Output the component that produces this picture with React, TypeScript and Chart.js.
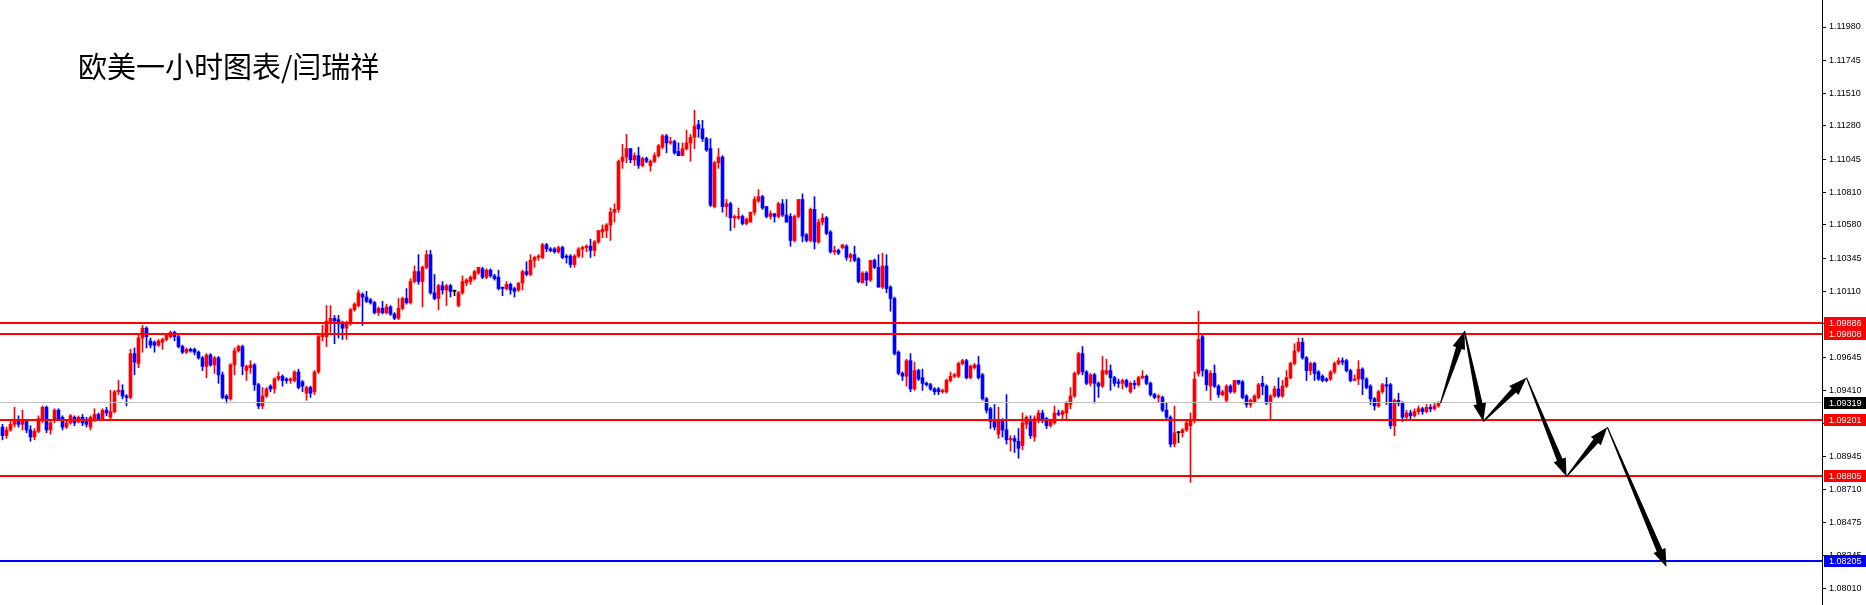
import React, { useEffect, useRef } from 'react';
import { Chart, registerables } from 'chart.js';

Chart.register(...registerables);

const chartTitle = '欧美一小时图表/闫瑞祥';

const opens = [
  1.0915, 1.0909, 1.0913, 1.0917, 1.0920, 1.0917, 1.0919, 1.0913, 1.0908, 1.0912,
  1.0920, 1.0929, 1.0913, 1.0920, 1.0927, 1.0922, 1.0915, 1.0918, 1.0922, 1.0919,
  1.0922, 1.0920, 1.0915, 1.0920, 1.0924, 1.0921, 1.0927, 1.0922, 1.0926, 1.0940,
  1.0941, 1.0937, 1.0936, 1.0967, 1.0960, 1.0978, 1.0985, 1.0976, 1.0975, 1.0973,
  1.0975, 1.0977, 1.0979, 1.0982, 1.0979, 1.0972, 1.0968, 1.0970, 1.0970, 1.0968,
  1.0964, 1.0958, 1.0966, 1.0959, 1.0964, 1.0952, 1.0937, 1.0935, 1.0959, 1.0969,
  1.0972, 1.0955, 1.0957, 1.0959, 1.0945, 1.0930, 1.0937, 1.0944, 1.0942, 1.0949,
  1.0951, 1.0949, 1.0948, 1.0948, 1.0954, 1.0947, 1.0939, 1.0943, 1.0940, 1.0954,
  1.0979, 1.0979, 1.0989, 1.0992, 1.0991, 1.0988, 1.0985, 1.0989, 1.0998, 1.1001,
  1.1009, 1.1007, 1.1005, 1.1003, 1.0996, 1.0999, 1.0996, 1.1000, 1.0995, 1.0992,
  1.0999, 1.1006, 1.1003, 1.1018, 1.1025, 1.1018, 1.1028, 1.1037, 1.1010, 1.1006,
  1.1015, 1.1012, 1.1015, 1.1011, 1.1001, 1.1010, 1.1017, 1.1018, 1.1020, 1.1024,
  1.1027, 1.1021, 1.1026, 1.1022, 1.1021, 1.1014, 1.1013, 1.1016, 1.1013, 1.1012,
  1.1017, 1.1025, 1.1023, 1.1033, 1.1035, 1.1035, 1.1044, 1.1041, 1.1041, 1.1039,
  1.1042, 1.1036, 1.1036, 1.1030, 1.1036, 1.1041, 1.1042, 1.1043, 1.1040, 1.1046,
  1.1053, 1.1054, 1.1058, 1.1067, 1.1069, 1.1103, 1.1106, 1.1112, 1.1104, 1.1107,
  1.1100, 1.1105, 1.1100, 1.1103, 1.1107, 1.1113, 1.1121, 1.1116, 1.1117, 1.1110,
  1.1107, 1.1112, 1.1116, 1.1120, 1.1129, 1.1126, 1.1119, 1.1112, 1.1071, 1.1102,
  1.1106, 1.1071, 1.1073, 1.1063, 1.1063, 1.1064, 1.1059, 1.1060, 1.1067, 1.1075,
  1.1078, 1.1071, 1.1064, 1.1066, 1.1064, 1.1073, 1.1065, 1.1064, 1.1047, 1.1064,
  1.1076, 1.1051, 1.1047, 1.1069, 1.1046, 1.1060, 1.1063, 1.1053, 1.1039, 1.1040,
  1.1042, 1.1043, 1.1035, 1.1037, 1.1034, 1.1017, 1.1024, 1.1019, 1.1033, 1.1028,
  1.1014, 1.1029, 1.1014, 1.1006, 1.0968, 1.0953, 1.0951, 1.0962, 1.0942, 1.0955,
  1.0950, 1.0946, 1.0945, 1.0942, 1.0942, 1.0940, 1.0940, 1.0948, 1.0951, 1.0951,
  1.0960, 1.0962, 1.0950, 1.0957, 1.0959, 1.0952, 1.0935, 1.0928, 1.0919, 1.0910,
  1.0920, 1.0913, 1.0906, 1.0907, 1.0905, 1.0902, 1.0917, 1.0920, 1.0908, 1.0920,
  1.0925, 1.0921, 1.0916, 1.0918, 1.0925, 1.0924, 1.0925, 1.0931, 1.0937, 1.0953,
  1.0967, 1.0954, 1.0946, 1.0952, 1.0946, 1.0944, 1.0953, 1.0955, 1.0950, 1.0947,
  1.0946, 1.0948, 1.0940, 1.0946, 1.0945, 1.0950, 1.0951, 1.0946, 1.0938, 1.0936,
  1.0936, 1.0927, 1.0922, 1.0903, 1.0911, 1.0911, 1.0913, 1.0916, 1.0920, 1.0953,
  1.0979, 1.0955, 1.0944, 1.0953, 1.0944, 1.0938, 1.0934, 1.0944, 1.0940, 1.0948,
  1.0947, 1.0937, 1.0931, 1.0933, 1.0936, 1.0946, 1.0944, 1.0932, 1.0937, 1.0942,
  1.0937, 1.0944, 1.0950, 1.0960, 1.0969, 1.0975, 1.0964, 1.0955, 1.0960, 1.0954,
  1.0951, 1.0949, 1.0949, 1.0954, 1.0960, 1.0962, 1.0962, 1.0955, 1.0948, 1.0949,
  1.0956, 1.0949, 1.0944, 1.0935, 1.0930, 1.0940, 1.0945, 1.0945, 1.0916, 1.0934,
  1.0932, 1.0922, 1.0925, 1.0923, 1.0926, 1.0928, 1.0926, 1.0929, 1.0928, 1.0930,
];

const highs = [
  1.0917, 1.0915, 1.0920, 1.0929, 1.0923, 1.0927, 1.0920, 1.0916, 1.0914, 1.0923,
  1.0930, 1.0930, 1.0919, 1.0928, 1.0928, 1.0923, 1.0920, 1.0924, 1.0923, 1.0923,
  1.0924, 1.0922, 1.0923, 1.0928, 1.0925, 1.0928, 1.0929, 1.0941, 1.0941, 1.0948,
  1.0945, 1.0938, 1.0970, 1.0971, 1.0980, 1.0987, 1.0986, 1.0978, 1.0976, 1.0977,
  1.0978, 1.0981, 1.0983, 1.0983, 1.0980, 1.0973, 1.0971, 1.0971, 1.0971, 1.0969,
  1.0965, 1.0967, 1.0967, 1.0965, 1.0965, 1.0954, 1.0938, 1.0960, 1.0971, 1.0973,
  1.0973, 1.0959, 1.0962, 1.0960, 1.0946, 1.0943, 1.0943, 1.0945, 1.0950, 1.0954,
  1.0952, 1.0950, 1.0950, 1.0955, 1.0956, 1.0948, 1.0944, 1.0944, 1.0955, 1.0980,
  1.0987, 1.1001, 1.1001, 1.0994, 1.0994, 1.0990, 1.0990, 1.0999, 1.1003, 1.1012,
  1.1010, 1.1011, 1.1006, 1.1004, 1.1000, 1.1004, 1.1002, 1.1001, 1.0996, 1.1006,
  1.1007, 1.1013, 1.1020, 1.1029, 1.1037, 1.1029, 1.1040, 1.1040, 1.1023, 1.1016,
  1.1018, 1.1016, 1.1016, 1.1012, 1.1011, 1.1022, 1.1020, 1.1022, 1.1026, 1.1028,
  1.1028, 1.1027, 1.1027, 1.1023, 1.1026, 1.1014, 1.1018, 1.1017, 1.1014, 1.1017,
  1.1026, 1.1032, 1.1037, 1.1036, 1.1037, 1.1045, 1.1045, 1.1042, 1.1042, 1.1043,
  1.1043, 1.1037, 1.1037, 1.1037, 1.1042, 1.1043, 1.1044, 1.1048, 1.1047, 1.1054,
  1.1058, 1.1059, 1.1070, 1.1073, 1.1104, 1.1115, 1.1122, 1.1112, 1.1109, 1.1113,
  1.1106, 1.1106, 1.1104, 1.1109, 1.1115, 1.1122, 1.1122, 1.1120, 1.1118, 1.1116,
  1.1116, 1.1125, 1.1122, 1.1139, 1.1132, 1.1132, 1.1120, 1.1119, 1.1103, 1.1112,
  1.1107, 1.1076, 1.1074, 1.1065, 1.1070, 1.1065, 1.1063, 1.1067, 1.1078, 1.1083,
  1.1079, 1.1071, 1.1068, 1.1066, 1.1074, 1.1076, 1.1076, 1.1066, 1.1065, 1.1076,
  1.1080, 1.1052, 1.1070, 1.1078, 1.1062, 1.1066, 1.1064, 1.1054, 1.1043, 1.1041,
  1.1044, 1.1044, 1.1038, 1.1043, 1.1035, 1.1025, 1.1025, 1.1033, 1.1034, 1.1037,
  1.1038, 1.1037, 1.1015, 1.1007, 1.0969, 1.0954, 1.0963, 1.0967, 1.0961, 1.0956,
  1.0956, 1.0947, 1.0946, 1.0943, 1.0943, 1.0942, 1.0949, 1.0954, 1.0953, 1.0961,
  1.0963, 1.0963, 1.0959, 1.0960, 1.0965, 1.0953, 1.0936, 1.0929, 1.0931, 1.0929,
  1.0921, 1.0938, 1.0909, 1.0909, 1.0914, 1.0925, 1.0923, 1.0923, 1.0923, 1.0927,
  1.0927, 1.0922, 1.0920, 1.0930, 1.0927, 1.0927, 1.0933, 1.0943, 1.0954, 1.0968,
  1.0972, 1.0955, 1.0953, 1.0953, 1.0947, 1.0965, 1.0963, 1.0959, 1.0951, 1.0949,
  1.0949, 1.0949, 1.0947, 1.0948, 1.0951, 1.0955, 1.0952, 1.0947, 1.0939, 1.0938,
  1.0937, 1.0932, 1.0923, 1.0930, 1.0912, 1.0914, 1.0920, 1.0925, 1.0954, 1.0997,
  1.0980, 1.0956, 1.0955, 1.0959, 1.0945, 1.0941, 1.0945, 1.0945, 1.0948, 1.0948,
  1.0948, 1.0938, 1.0935, 1.0938, 1.0946, 1.0951, 1.0945, 1.0938, 1.0944, 1.0950,
  1.0948, 1.0955, 1.0961, 1.0974, 1.0978, 1.0978, 1.0965, 1.0961, 1.0961, 1.0955,
  1.0952, 1.0950, 1.0955, 1.0961, 1.0964, 1.0964, 1.0963, 1.0956, 1.0952, 1.0962,
  1.0957, 1.0950, 1.0945, 1.0936, 1.0941, 1.0946, 1.0950, 1.0946, 1.0935, 1.0939,
  1.0933, 1.0927, 1.0927, 1.0928, 1.0930, 1.0929, 1.0931, 1.0931, 1.0932, 1.0933,
];

const lows = [
  1.0906, 1.0907, 1.0912, 1.0915, 1.0915, 1.0913, 1.0911, 1.0905, 1.0906, 1.0911,
  1.0918, 1.0911, 1.0910, 1.0918, 1.0920, 1.0913, 1.0914, 1.0917, 1.0916, 1.0918,
  1.0916, 1.0915, 1.0913, 1.0919, 1.0920, 1.0920, 1.0923, 1.0921, 1.0925, 1.0938,
  1.0935, 1.0930, 1.0935, 1.0952, 1.0957, 1.0968, 1.0971, 1.0971, 1.0968, 1.0972,
  1.0970, 1.0976, 1.0978, 1.0976, 1.0971, 1.0967, 1.0967, 1.0968, 1.0966, 1.0963,
  1.0955, 1.0950, 1.0958, 1.0953, 1.0946, 1.0935, 1.0932, 1.0934, 1.0952, 1.0968,
  1.0952, 1.0948, 1.0953, 1.0941, 1.0928, 1.0928, 1.0936, 1.0940, 1.0939, 1.0948,
  1.0944, 1.0946, 1.0946, 1.0947, 1.0942, 1.0940, 1.0934, 1.0936, 1.0938, 1.0953,
  1.0976, 1.0972, 1.0982, 1.0974, 1.0978, 1.0977, 1.0977, 1.0987, 1.0997, 1.1000,
  1.0987, 1.1003, 1.1002, 1.0995, 1.0994, 1.0995, 1.0995, 1.0994, 1.0991, 1.0991,
  1.0998, 1.1002, 1.1002, 1.1017, 1.1016, 1.1000, 1.1027, 1.1009, 1.1005, 1.0998,
  1.1009, 1.1001, 1.1007, 1.1008, 1.1000, 1.1009, 1.1015, 1.1016, 1.1019, 1.1023,
  1.1020, 1.1020, 1.1021, 1.1019, 1.1012, 1.1008, 1.1012, 1.1009, 1.1007, 1.1011,
  1.1012, 1.1022, 1.1022, 1.1028, 1.1033, 1.1034, 1.1039, 1.1039, 1.1038, 1.1038,
  1.1034, 1.1031, 1.1028, 1.1028, 1.1035, 1.1035, 1.1039, 1.1035, 1.1036, 1.1045,
  1.1049, 1.1049, 1.1047, 1.1060, 1.1067, 1.1098, 1.1102, 1.1102, 1.1100, 1.1098,
  1.1099, 1.1102, 1.1096, 1.1102, 1.1106, 1.1112, 1.1109, 1.1115, 1.1108, 1.1107,
  1.1107, 1.1111, 1.1103, 1.1112, 1.1120, 1.1117, 1.1110, 1.1071, 1.1070, 1.1098,
  1.1067, 1.1064, 1.1054, 1.1056, 1.1062, 1.1058, 1.1058, 1.1060, 1.1065, 1.1074,
  1.1069, 1.1063, 1.1062, 1.1060, 1.1063, 1.1064, 1.1060, 1.1043, 1.1046, 1.1063,
  1.1046, 1.1046, 1.1046, 1.1041, 1.1045, 1.1058, 1.1051, 1.1038, 1.1037, 1.1037,
  1.1041, 1.1033, 1.1032, 1.1032, 1.1017, 1.1017, 1.1015, 1.1018, 1.1027, 1.1014,
  1.1013, 1.1010, 1.0997, 1.0966, 1.0952, 1.0948, 1.0944, 1.0940, 1.0941, 1.0948,
  1.0941, 1.0944, 1.0941, 1.0938, 1.0938, 1.0939, 1.0939, 1.0947, 1.0950, 1.0950,
  1.0959, 1.0949, 1.0949, 1.0956, 1.0949, 1.0934, 1.0925, 1.0914, 1.0913, 1.0907,
  1.0908, 1.0903, 1.0898, 1.0897, 1.0893, 1.0899, 1.0914, 1.0907, 1.0905, 1.0918,
  1.0918, 1.0914, 1.0915, 1.0917, 1.0923, 1.0920, 1.0920, 1.0928, 1.0936, 1.0952,
  1.0952, 1.0945, 1.0944, 1.0932, 1.0936, 1.0943, 1.0952, 1.0941, 1.0944, 1.0943,
  1.0942, 1.0943, 1.0939, 1.0942, 1.0944, 1.0949, 1.0945, 1.0937, 1.0935, 1.0933,
  1.0926, 1.0921, 1.0901, 1.0901, 1.0904, 1.0908, 1.0912, 1.0876, 1.0918, 1.0951,
  1.0951, 1.0941, 1.0934, 1.0943, 1.0936, 1.0937, 1.0933, 1.0939, 1.0939, 1.0945,
  1.0935, 1.0929, 1.0929, 1.0932, 1.0935, 1.0938, 1.0931, 1.0920, 1.0936, 1.0936,
  1.0936, 1.0943, 1.0949, 1.0959, 1.0968, 1.0963, 1.0948, 1.0952, 1.0948, 1.0948,
  1.0947, 1.0947, 1.0948, 1.0953, 1.0959, 1.0959, 1.0954, 1.0947, 1.0948, 1.0945,
  1.0938, 1.0942, 1.0931, 1.0927, 1.0929, 1.0939, 1.0931, 1.0914, 1.0909, 1.0930,
  1.0919, 1.0920, 1.0921, 1.0922, 1.0924, 1.0924, 1.0925, 1.0926, 1.0927, 1.0929,
];

const closes = [
  1.0909, 1.0913, 1.0917, 1.0919, 1.0917, 1.0919, 1.0913, 1.0908, 1.0912, 1.0921,
  1.0929, 1.0913, 1.0918, 1.0927, 1.0921, 1.0915, 1.0918, 1.0923, 1.0918, 1.0922,
  1.0918, 1.0917, 1.0922, 1.0924, 1.0921, 1.0927, 1.0925, 1.0926, 1.0940, 1.0941,
  1.0937, 1.0936, 1.0967, 1.0961, 1.0978, 1.0985, 1.0979, 1.0973, 1.0973, 1.0976,
  1.0977, 1.0980, 1.0982, 1.0979, 1.0972, 1.0968, 1.0970, 1.0969, 1.0968, 1.0964,
  1.0958, 1.0966, 1.0959, 1.0964, 1.0952, 1.0936, 1.0935, 1.0959, 1.0969, 1.0972,
  1.0958, 1.0958, 1.0959, 1.0945, 1.0930, 1.0937, 1.0942, 1.0942, 1.0949, 1.0951,
  1.0948, 1.0948, 1.0949, 1.0954, 1.0943, 1.0944, 1.0943, 1.0939, 1.0954, 1.0979,
  1.0980, 1.0990, 1.0992, 1.0990, 1.0988, 1.0985, 1.0989, 1.0998, 1.1002, 1.1010,
  1.1007, 1.1004, 1.1003, 1.0996, 1.0999, 1.0996, 1.1000, 1.0995, 1.0992, 1.0999,
  1.1006, 1.1003, 1.1018, 1.1025, 1.1018, 1.1028, 1.1037, 1.1010, 1.1006, 1.1015,
  1.1012, 1.1015, 1.1011, 1.1011, 1.1010, 1.1018, 1.1019, 1.1021, 1.1025, 1.1028,
  1.1021, 1.1026, 1.1022, 1.1020, 1.1013, 1.1013, 1.1016, 1.1012, 1.1011, 1.1017,
  1.1025, 1.1023, 1.1033, 1.1035, 1.1036, 1.1044, 1.1041, 1.1040, 1.1039, 1.1042,
  1.1035, 1.1035, 1.1030, 1.1036, 1.1041, 1.1042, 1.1043, 1.1040, 1.1046, 1.1054,
  1.1055, 1.1058, 1.1067, 1.1069, 1.1103, 1.1106, 1.1112, 1.1104, 1.1107, 1.1100,
  1.1105, 1.1103, 1.1103, 1.1107, 1.1114, 1.1121, 1.1116, 1.1117, 1.1109, 1.1107,
  1.1112, 1.1116, 1.1120, 1.1128, 1.1126, 1.1119, 1.1111, 1.1072, 1.1102, 1.1106,
  1.1071, 1.1073, 1.1063, 1.1064, 1.1064, 1.1059, 1.1062, 1.1067, 1.1076, 1.1078,
  1.1070, 1.1064, 1.1066, 1.1064, 1.1073, 1.1065, 1.1060, 1.1047, 1.1064, 1.1076,
  1.1050, 1.1047, 1.1069, 1.1046, 1.1060, 1.1063, 1.1052, 1.1039, 1.1040, 1.1038,
  1.1044, 1.1035, 1.1037, 1.1033, 1.1018, 1.1024, 1.1019, 1.1033, 1.1028, 1.1014,
  1.1029, 1.1013, 1.1006, 1.0967, 1.0953, 1.0951, 1.0962, 1.0942, 1.0955, 1.0949,
  1.0946, 1.0945, 1.0942, 1.0940, 1.0940, 1.0941, 1.0948, 1.0951, 1.0952, 1.0960,
  1.0962, 1.0950, 1.0958, 1.0959, 1.0950, 1.0935, 1.0927, 1.0919, 1.0915, 1.0920,
  1.0913, 1.0906, 1.0907, 1.0905, 1.0900, 1.0918, 1.0922, 1.0909, 1.0921, 1.0925,
  1.0920, 1.0916, 1.0919, 1.0925, 1.0924, 1.0926, 1.0932, 1.0937, 1.0953, 1.0967,
  1.0954, 1.0946, 1.0952, 1.0946, 1.0944, 1.0955, 1.0955, 1.0950, 1.0946, 1.0946,
  1.0948, 1.0944, 1.0946, 1.0945, 1.0950, 1.0951, 1.0946, 1.0938, 1.0936, 1.0937,
  1.0927, 1.0922, 1.0903, 1.0911, 1.0911, 1.0913, 1.0918, 1.0920, 1.0949, 1.0977,
  1.0955, 1.0945, 1.0953, 1.0944, 1.0938, 1.0940, 1.0944, 1.0940, 1.0948, 1.0946,
  1.0936, 1.0931, 1.0934, 1.0937, 1.0945, 1.0944, 1.0932, 1.0937, 1.0942, 1.0937,
  1.0944, 1.0950, 1.0960, 1.0969, 1.0975, 1.0964, 1.0955, 1.0960, 1.0953, 1.0949,
  1.0948, 1.0948, 1.0954, 1.0960, 1.0962, 1.0961, 1.0955, 1.0948, 1.0949, 1.0956,
  1.0949, 1.0943, 1.0935, 1.0930, 1.0940, 1.0945, 1.0944, 1.0916, 1.0934, 1.0932,
  1.0922, 1.0925, 1.0923, 1.0926, 1.0928, 1.0926, 1.0929, 1.0928, 1.0930, 1.0932,
];

// Right-axis tick labels
const yTickValues = [
  1.1198, 1.11745, 1.1151, 1.1128, 1.11045, 1.1081, 1.1058, 1.10345, 1.1011,
  1.0988, 1.09645, 1.0941, 1.09175, 1.08945, 1.0871, 1.08475, 1.08245, 1.0801,
];

// Horizontal level lines and their axis tags
const levelPrices = [1.09886, 1.09808, 1.09319, 1.09201, 1.08805, 1.08205];
const levelLineColors = ['#ff0000', '#ff0000', '#c0c0c0', '#ff0000', '#ff0000', '#0000ff'];
const levelTagColors = ['#ff0000', '#ff0000', '#000000', '#ff0000', '#ff0000', '#0000ff'];
const levelWidths = [2, 2, 1, 2, 2, 2];

// Projected path drawn as arrows (candle index, price)
const arrowIndex = [359.5, 365.5, 370.2, 381, 391, 401.2, 416];
const arrowPrice = [1.0932, 1.0983, 1.0919, 1.095, 1.088, 1.0915, 1.0816];

const X_MIN = -0.625;
const X_MAX = 454.875;
const Y_MIN = 1.07892;
const Y_MAX = 1.12171;

const UP = '#ff0000';
const DOWN = '#0000ff';
const FLAT = '#000000';
const AXIS_FONT = '"Liberation Sans", Arial, sans-serif';

function candleColor(i: number): string {
  if (closes[i] > opens[i]) return UP;
  if (closes[i] < opens[i]) return DOWN;
  return FLAT;
}

function drawArrow(ctx: CanvasRenderingContext2D, x0: number, y0: number, x1: number, y1: number) {
  const dx = x1 - x0;
  const dy = y1 - y0;
  const len = Math.hypot(dx, dy);
  if (len < 1) return;
  const ux = dx / len;
  const uy = dy / len;
  const nx = -uy;
  const ny = ux;
  const headLen = Math.min(18, len * 0.32);
  const headW = 6.5;
  const bx = x1 - ux * headLen;
  const by = y1 - uy * headLen;
  const s0 = 0.6;
  const s1 = 3.0;
  ctx.beginPath();
  ctx.moveTo(x0 + nx * s0, y0 + ny * s0);
  ctx.lineTo(bx + nx * s1, by + ny * s1);
  ctx.lineTo(bx + nx * headW, by + ny * headW);
  ctx.lineTo(x1, y1);
  ctx.lineTo(bx - nx * headW, by - ny * headW);
  ctx.lineTo(bx - nx * s1, by - ny * s1);
  ctx.lineTo(x0 - nx * s0, y0 - ny * s0);
  ctx.closePath();
  ctx.fill();
}

const overlayPlugin = {
  id: 'mt4Overlay',
  afterDatasetsDraw(chart: any) {
    const { ctx, chartArea, scales } = chart;
    const ys = scales.y;
    const xs = scales.x;
    ctx.save();
    levelPrices.forEach((p, k) => {
      const py = Math.round(ys.getPixelForValue(p));
      const w = levelWidths[k];
      ctx.fillStyle = levelLineColors[k];
      ctx.fillRect(chartArea.left, py - Math.ceil(w / 2), chartArea.right - chartArea.left, w);
    });
    ctx.fillStyle = '#000000';
    for (let k = 0; k < arrowIndex.length - 1; k++) {
      drawArrow(
        ctx,
        xs.getPixelForValue(arrowIndex[k]),
        ys.getPixelForValue(arrowPrice[k]),
        xs.getPixelForValue(arrowIndex[k + 1]),
        ys.getPixelForValue(arrowPrice[k + 1])
      );
    }
    ctx.restore();
  },
  afterDraw(chart: any) {
    const { ctx, chartArea, scales, width } = chart;
    const ys = scales.y;
    ctx.save();
    ctx.font = `9px ${AXIS_FONT}`;
    ctx.textBaseline = 'middle';
    ctx.textAlign = 'left';
    levelPrices.forEach((p, k) => {
      const py = Math.round(ys.getPixelForValue(p));
      ctx.fillStyle = levelTagColors[k];
      ctx.fillRect(chartArea.right + 2, py - 6, width - chartArea.right - 2, 12);
      ctx.fillStyle = '#ffffff';
      ctx.fillText(p.toFixed(5), chartArea.right + 7, py + 0.5);
    });
    ctx.restore();
  },
};

export default function App() {
  const canvasRef = useRef<HTMLCanvasElement | null>(null);

  useEffect(() => {
    document.body.style.margin = '0';
    const canvas = canvasRef.current;
    if (!canvas) return;
    const idx = closes.map((_, i) => i);
    const colors = idx.map(candleColor);
    const chart = new Chart(canvas, {
      type: 'bar',
      data: {
        datasets: [
          {
            label: 'body',
            data: idx.map((i) => ({ x: i, y: [opens[i], closes[i]] })) as any,
            backgroundColor: colors,
            borderWidth: 0,
            barThickness: 3,
            minBarLength: 1,
            grouped: false,
          } as any,
          {
            label: 'wick',
            data: idx.map((i) => ({ x: i, y: [lows[i], highs[i]] })) as any,
            backgroundColor: colors,
            borderWidth: 0,
            barThickness: 1,
            minBarLength: 1,
            grouped: false,
          } as any,
        ],
      },
      options: {
        animation: false,
        responsive: true,
        maintainAspectRatio: false,
        events: [],
        layout: { padding: 0 },
        plugins: {
          legend: { display: false },
          tooltip: { enabled: false },
          title: { display: false },
        },
        scales: {
          x: {
            type: 'linear',
            min: X_MIN,
            max: X_MAX,
            offset: false,
            display: false,
          },
          y: {
            type: 'linear',
            position: 'right',
            min: Y_MIN,
            max: Y_MAX,
            grid: {
              drawOnChartArea: false,
              drawTicks: true,
              tickLength: 4,
              color: '#000000',
            },
            border: { display: true, color: '#000000', width: 1 },
            ticks: {
              autoSkip: false,
              padding: 3,
              color: '#000000',
              font: { family: AXIS_FONT, size: 9 },
              callback: (v: any) => Number(v).toFixed(5),
            },
            afterBuildTicks: (scale: any) => {
              scale.ticks = yTickValues.map((v) => ({ value: v }));
            },
            afterFit: (scale: any) => {
              scale.width = 44;
              scale.paddingTop = 0;
              scale.paddingBottom = 0;
            },
          } as any,
        },
      },
      plugins: [overlayPlugin],
    });
    return () => chart.destroy();
  }, []);

  return (
    <div style={{ position: 'relative', width: 1866, height: 605, background: '#ffffff' }}>
      <canvas ref={canvasRef} />
      <div
        style={{
          position: 'absolute',
          left: 78,
          top: 49,
          fontFamily: '"Noto Sans CJK SC", sans-serif',
          fontSize: 29,
          lineHeight: '32px',
          color: '#000000',
          whiteSpace: 'nowrap',
          pointerEvents: 'none',
        }}
      >
        {chartTitle}
      </div>
    </div>
  );
}
